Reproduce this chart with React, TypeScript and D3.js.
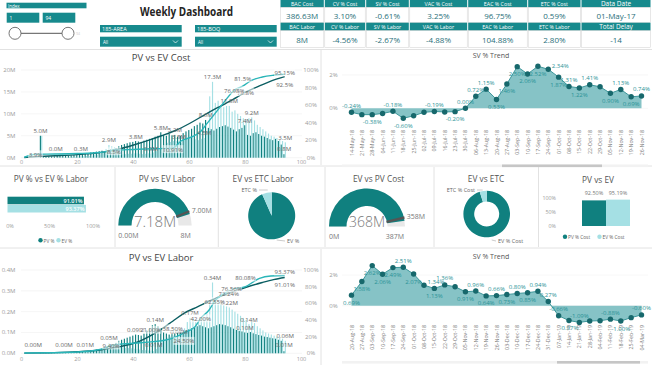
import React from "react";
import * as d3 from "d3";

// ---------------- data ----------------
const kpiCostHeads = ["BAC Cost", "CV % Cost", "SV % Cost", "VAC % Cost", "EAC % Cost", "ETC % Cost", "Data Date"];
const kpiCostVals = ["386.63M", "3.10%", "-0.61%", "3.25%", "96.75%", "0.59%", "01-May-17"];
const kpiLaborHeads = ["BAC Labor", "CV % Labor", "SV % Labor", "VAC % Labor", "EAC % Labor", "ETC % Labor", "Total Delay"];
const kpiLaborVals = ["8M", "-4.56%", "-2.67%", "-4.88%", "104.88%", "2.80%", "-14"];

const indexRange = [1, 94];
const slicers = ["185-AREA", "185-BOQ"];

// weekly cost (M), index 1..94
const pvCost = [
  0, 0, 0, 0, 0, 0, 5.0, 0.2, 0.2, 0.3,
  0.3, 0.3, 0.4, 0.4, 0.4, 0.5, 0.5, 0.5, 0.6, 0.6,
  0.7, 0.8, 0.9, 1.0, 1.2, 1.3, 1.4, 1.5, 1.6, 1.5,
  1.7, 1.9, 2.0, 2.2, 2.6, 2.9, 3.1, 3.3, 3.5, 3.6,
  3.8, 3.7, 3.6, 3.9, 4.1, 4.3, 4.5, 4.8, 5.0, 5.8,
  5.2, 5.0, 5.4, 5.1, 5.2, 4.8, 5.0, 5.6, 6.0, 6.3,
  6.6, 7.2, 7.5, 8.0, 7.8, 8.6, 6.8, 6.5, 6.2, 6.6,
  7.0, 7.2, 7.4, 7.1, 6.8, 6.4, 6.0, 6.5, 6.8, 7.4,
  5.2, 5.0, 5.6, 5.8, 5.4, 5.0, 4.8, 4.5, 4.2, 4.0,
  4.3, 3.8, 3.0, 0.8,
];
const evCost = [
  0, 0, 0, 0, 0, 0, 5.0, 0, 0, 0,
  0, 0.0, 0.1, 0.1, 0.1, 0.1, 0.2, 0.2, 0.2, 0.3,
  0.3, 0.3, 0.4, 0.4, 0.5, 0.6, 0.7, 0.8, 1.2, 2.0,
  2.9, 2.6, 2.4, 2.0, 1.0, 0.8, 0.8, 0.9, 0.9, 1.0,
  1.0, 0.9, 0.8, 0.9, 1.0, 0.9, 1.2, 1.5, 2.0, 2.5,
  3.0, 3.4, 3.6, 3.8, 3.8, 3.8, 3.5, 3.9, 4.2, 4.6,
  5.0, 4.2, 4.0, 4.3, 4.5, 6.0, 14.0, 17.3, 12.5, 13.0,
  12.0, 11.5, 11.8, 11.8, 10.5, 10.8, 10.0, 9.5, 9.0, 8.8,
  9.0, 9.2, 8.5, 7.5, 7.0, 6.5, 6.0, 5.5, 5.0, 4.8,
  4.5, 4.2, 3.8, 3.5,
];
// cumulative % [index, pct]
const pvCostCum: [number, number][] = [
  [1, 0.2], [7, 1.5], [12, 2.2], [20, 3.5], [28, 5.8], [35, 10], [40, 14.5], [45, 19.5], [50, 25],
  [55, 31], [60, 39], [66, 50], [70, 57], [73, 62], [77, 69], [80, 74.8], [84, 80.5], [88, 86], [91, 89.5], [94, 92.5],
];
const evCostCum: [number, number][] = [
  [1, 0.5], [5, 3.9], [12, 4.2], [20, 4.8], [28, 6.0], [33, 8.5], [40, 9.4], [47, 10.2], [54, 10.91],
  [57, 19], [61, 24], [64, 30], [66, 38], [69, 50], [72, 62], [76, 76.98], [79, 81.5], [82, 88], [86, 92], [90, 94], [94, 95.15],
];
const pvCostLabelAt = [7, 41, 50, 55, 66, 80, 94];
const evCostLabelAt = [12, 21, 31, 46, 56, 65, 68, 74, 82, 94];
// [index, vertical label shift]
const pvCostCumLabelAt: [number, number][] = [[80, 0], [94, 8]];
const evCostCumLabelAt: [number, number][] = [[5, 0], [33, 1], [54, 1], [76, 0], [79, -8], [94, -2]];

// weekly labor (M), index 1..94
const pvLabor = [
  0, 0, 0, 0, 0, 0, 0.004, 0.003, 0.003, 0.004,
  0.004, 0.004, 0.005, 0.005, 0.005, 0.006, 0.006, 0.007, 0.008, 0.008,
  0.009, 0.010, 0.010, 0.012, 0.014, 0.016, 0.018, 0.020, 0.022, 0.025,
  0.030, 0.035, 0.040, 0.050, 0.060, 0.065, 0.070, 0.075, 0.080, 0.085,
  0.090, 0.088, 0.085, 0.095, 0.110, 0.120, 0.135, 0.140, 0.130, 0.120,
  0.100, 0.095, 0.090, 0.092, 0.095, 0.098, 0.100, 0.105, 0.110, 0.115,
  0.120, 0.125, 0.130, 0.135, 0.130, 0.125, 0.120, 0.125, 0.130, 0.135,
  0.140, 0.138, 0.135, 0.130, 0.125, 0.118, 0.112, 0.108, 0.105, 0.100,
  0.098, 0.102, 0.096, 0.092, 0.088, 0.085, 0.080, 0.078, 0.075, 0.072,
  0.070, 0.065, 0.060, 0.010,
];
const evLabor = [
  0, 0, 0, 0.002, 0, 0, 0.002, 0.001, 0.001, 0.002,
  0.002, 0.002, 0.002, 0.002, 0.003, 0.003, 0.003, 0.004, 0.004, 0.005,
  0.005, 0.006, 0.006, 0.007, 0.008, 0.010, 0.012, 0.015, 0.020, 0.030,
  0.050, 0.045, 0.040, 0.035, 0.030, 0.028, 0.026, 0.025, 0.024, 0.022,
  0.020, 0.018, 0.016, 0.015, 0.014, 0.012, 0.010, 0.020, 0.040, 0.060,
  0.070, 0.075, 0.080, 0.085, 0.080, 0.080, 0.090, 0.120, 0.150, 0.170,
  0.160, 0.150, 0.155, 0.160, 0.170, 0.190, 0.240, 0.340, 0.260, 0.250,
  0.240, 0.230, 0.225, 0.220, 0.210, 0.200, 0.190, 0.180, 0.170, 0.160,
  0.140, 0.150, 0.145, 0.130, 0.120, 0.110, 0.100, 0.095, 0.090, 0.085,
  0.080, 0.075, 0.070, 0.060,
];
const pvLaborCum: [number, number][] = [
  [1, 0.2], [10, 0.7], [20, 1.8], [28, 4], [35, 8], [41, 13], [46, 21.0], [50, 29], [54, 38.5],
  [58, 48], [63, 56], [68, 64], [74, 72.24], [80, 79], [86, 85], [90, 88.5], [94, 91.01],
];
const evLaborCum: [number, number][] = [
  [1, 0.3], [10, 0.6], [20, 1.5], [28, 4.5], [32, 9.4], [40, 12], [47, 14], [53, 17], [58, 24.5],
  [62, 32], [64, 42.0], [67, 52], [69, 62.55], [72, 71], [75, 76.56], [80, 80.08], [85, 90], [89, 92.8], [94, 93.37],
];
const pvLaborLabelAt = [23, 41, 48, 80, 94];
const evLaborLabelAt = [4, 15, 31, 47, 56, 60, 68, 74, 81, 94];
const pvLaborCumLabelAt: [number, number][] = [[46, -6], [54, 7], [74, 0], [94, 7]];
const evLaborCumLabelAt: [number, number][] = [[32, 0], [58, 8], [64, 0], [69, 0], [75, -1], [80, -9], [94, -4]];

const costTicks = [0, 5, 10, 15, 20];
const laborTicks = [0, 0.1, 0.2, 0.3, 0.4];
const pctTicks = [0, 20, 40, 60, 80, 100];
const idxTicks = [0, 20, 40, 60, 80, 100];

// SV % trend
const svDates1 = ["14-May-18", "21-May-18", "28-May-18", "04-Jun-18", "11-Jun-18", "18-Jun-18", "25-Jun-18", "02-Jul-18", "09-Jul-18", "16-Jul-18", "23-Jul-18", "30-Jul-18", "06-Aug-18", "13-Aug-18", "20-Aug-18", "27-Aug-18", "03-Sep-18", "10-Sep-18", "17-Sep-18", "24-Sep-18", "01-Oct-18", "08-Oct-18", "15-Oct-18", "22-Oct-18", "29-Oct-18", "05-Nov-18", "12-Nov-18", "19-Nov-18", "26-Nov-18"];
const svValues1 = [-0.24, -0.38, -0.38, -0.31, -0.18, -0.60, -0.45, -0.24, -0.19, -0.22, -0.20, 0.00, 0.72, 1.15, 0.53, 1.46, 2.50, 2.06, 2.52, 2.34, 1.87, 1.31, 1.22, 1.41, 1.29, 0.90, 1.13, 0.69, 0.74];
const svLabelPos1 = ["a", "", "b", "", "a", "b", "", "", "a", "", "b", "a", "a", "a", "b", "b", "b", "b", "b", "r", "b", "a", "b", "a", "", "b", "a", "b", "a"];
const svDates2 = ["20-Aug-18", "27-Aug-18", "03-Sep-18", "10-Sep-18", "17-Sep-18", "24-Sep-18", "01-Oct-18", "08-Oct-18", "15-Oct-18", "22-Oct-18", "29-Oct-18", "05-Nov-18", "12-Nov-18", "19-Nov-18", "26-Nov-18", "03-Dec-18", "10-Dec-18", "17-Dec-18", "24-Dec-18", "31-Dec-18", "07-Jan-19", "14-Jan-19", "21-Jan-19", "28-Jan-19", "04-Feb-19", "11-Feb-19", "18-Feb-19", "25-Feb-19", "04-Mar-19"];
const svValues2 = [0.69, 1.58, 2.62, 2.06, 2.49, 2.51, 2.07, 1.34, 1.13, 1.36, 1.24, 0.91, 0.96, 0.64, 0.66, 0.73, 0.80, 0.85, 0.94, 0.27, -0.66, -0.97, -1.09, -1.00, -0.98, -0.88, -1.00, -0.78, -0.60];
const svLabelPos2 = ["b", "b", "b", "b", "b", "a", "b", "r", "b", "a", "", "b", "a", "b", "a", "b", "a", "b", "a", "a", "a", "b", "a", "", "", "a", "b", "", "a"];
const svTicks = [0, 2];

// middle row
const laborPctNames = ["PV %", "EV %"];
const laborPct = [91.01, 93.37];
const laborGauge = { value: 7.18, target: 7.0, max: 8 };
const costGauge = { value: 368, target: 358, max: 387 };
const etcLaborNames = ["EV %", "ETC %"];
const etcLaborVals = [93.37, 6.63];
const etcCostNames = ["EV % Cost", "ETC % Cost"];
const etcCostVals = [95.15, 4.85];
const pvEvNames = ["PV % Cost", "EV % Cost"];
const pvEvVals = [92.5, 95.19];
const colTicks = [0, 50, 100];
const barTicks = [0, 50, 100];

// ---------------- style ----------------
const FONT = "'Open Sans', 'Noto Sans', sans-serif";
const TEAL = "#178a8d";
const DARK = "#10807f";
const LIGHT = "#a5e0e4";
const LINE_DARK = "#0b5e62";
const LINE_CYAN = "#2ab5b8";
const AXIS = "#9b9b9b";
const LABEL = "#666";
const BORDER = "#e2e2e2";

type Pt = [number, number];

function Txt(props: any) {
  return <text fontFamily={FONT} dominantBaseline="central" {...props} />;
}

function Header() {
  const sx = d3.scaleLinear().domain([1, 94]).range([15, 68]);
  return (
    <g>
      <rect x={6.5} y={2.7} width={80} height={5.6} fill={TEAL} />
      <Txt x={8} y={5.5} fontSize={4.5} fill="#fff">Index</Txt>
      {indexRange.map((v, i) => (
        <g key={i}>
          <rect x={6.7 + i * 36} y={12.7} width={32.6} height={10} fill={TEAL} />
          <Txt x={9.5 + i * 36} y={17.8} fontSize={5} fill="#fff">{v}</Txt>
        </g>
      ))}
      <line x1={sx(indexRange[0])} x2={sx(indexRange[1])} y1={33.3} y2={33.3} stroke="#555" strokeWidth={1} />
      {indexRange.map((v, i) => (
        <circle key={i} cx={sx(v)} cy={33.3} r={6} fill="#fff" stroke="#666" strokeWidth={0.9} />
      ))}
      <Txt x={76} y={33.5} fontSize={3.5} fill="#ccc">94</Txt>
      <Txt x={186.5} y={11} fontSize={12.5} fontWeight={700} fill="#252423" textAnchor="middle" textLength={93} lengthAdjust="spacingAndGlyphs">Weekly Dashboard</Txt>
      {slicers.map((s, i) => {
        const x0 = 100 + i * 95;
        return (
          <g key={s}>
            <rect x={x0} y={25} width={81.7} height={7.3} fill={TEAL} />
            <Txt x={x0 + 2} y={28.8} fontSize={5.5} fill="#fff">{s}</Txt>
            <rect x={x0} y={36.7} width={81.7} height={10} fill={TEAL} />
            <Txt x={x0 + 3} y={41.8} fontSize={4.5} fill="#fff">All</Txt>
            <path d={`M${x0 + 73} ${40.5} L${x0 + 75.5} ${43} L${x0 + 78} ${40.5}`} fill="none" stroke="#fff" strokeWidth={0.7} />
          </g>
        );
      })}
    </g>
  );
}

function Kpi() {
  const edges = [280, 324.3, 365.7, 409.3, 467.7, 527.7, 581, 651];
  const rows = [
    { heads: kpiCostHeads, vals: kpiCostVals, hy: 0, hh: 7.4, vy: 7.4, vh: 15.3 },
    { heads: kpiLaborHeads, vals: kpiLaborVals, hy: 22.7, hh: 8, vy: 30.7, vh: 17 },
  ];
  return (
    <g>
      {rows.map((r, ri) => (
        <g key={ri}>
          {r.heads.map((h, i) => {
            const x0 = edges[i], x1 = edges[i + 1], cx = (x0 + x1) / 2;
            return (
              <g key={h}>
                <rect x={x0 + 0.5} y={r.hy} width={x1 - x0 - 1} height={r.hh} fill={TEAL} />
                <Txt x={cx} y={r.hy + r.hh / 2 + 0.2} fontSize={i === 6 ? 6.5 : 5.3} fill="#fff" textAnchor="middle">{h}</Txt>
                <rect x={x0 + 0.5} y={r.vy} width={x1 - x0 - 1} height={r.vh} fill="#fff" stroke="#d0d0d0" strokeWidth={0.5} />
                <Txt x={cx} y={r.vy + r.vh / 2 + 0.5} fontSize={8} fill="#2a707a" textAnchor="middle">{r.vals[i]}</Txt>
              </g>
            );
          })}
        </g>
      ))}
    </g>
  );
}

function LabelBox({ x, y, text, color }: { x: number; y: number; text: string; color: string }) {
  const w = text.length * 3.2 + 2;
  return (
    <g>
      <rect x={x - w / 2} y={y - 4} width={w} height={8} fill="#fff" opacity={0.55} />
      <Txt x={x} y={y} fontSize={6.1} fill={color} textAnchor="middle">{text}</Txt>
    </g>
  );
}

function Combo(p: {
  title: string; titleY: number; y0: number; yTop: number; yMax: number; yTicks: number[];
  yFmt: (v: number) => string; pv: number[]; ev: number[]; pvCum: Pt[]; evCum: Pt[];
  pvLab: number[]; evLab: number[]; pvCumLab: Pt[]; evCumLab: Pt[];
  barFmt: (v: number) => string; cumFmt: (v: number) => string; xLabelY: number;
}) {
  const x = d3.scaleLinear().domain([0, 100]).range([21.5, 301.5]);
  const yB = d3.scaleLinear().domain([0, p.yMax]).range([p.y0, p.yTop]);
  const yP = d3.scaleLinear().domain([0, 100]).range([p.y0, p.yTop]);
  const line = d3.line<Pt>().x(d => x(d[0])).y(d => yP(d[1])).curve(d3.curveMonotoneX);
  const barLabel = (vals: number[], idxs: number[], dx: number) =>
    idxs.map(i => {
      const v = vals[i - 1];
      return (
        <Txt key={i} x={x(i) + dx} y={Math.min(yB(v) - 5, p.y0 - 9)} fontSize={6.1} fill={LABEL} textAnchor="middle">
          {p.barFmt(v)}
        </Txt>
      );
    });
  const cumLabel = (pts: Pt[], labs: Pt[]) =>
    labs.map(([idx, dy]) => {
      const d = pts.find(q => q[0] === idx)!;
      return <LabelBox key={idx} x={x(d[0])} y={yP(d[1]) + dy} text={p.cumFmt(d[1])} color={LABEL} />;
    });
  return (
    <g>
      <Txt x={161} y={p.titleY} fontSize={9.5} fill="#444" textAnchor="middle">{p.title}</Txt>
      {p.yTicks.map(t => (
        <g key={t}>
          <line x1={21} x2={302} y1={yB(t)} y2={yB(t)} stroke="#efefef" strokeWidth={0.6} />
          <Txt x={15.5} y={yB(t)} fontSize={6} fill={AXIS} textAnchor="end">{p.yFmt(t)}</Txt>
        </g>
      ))}
      {pctTicks.map(t => (
        <Txt key={t} x={311} y={yP(t)} fontSize={6} fill={AXIS} textAnchor="middle">{t}%</Txt>
      ))}
      {idxTicks.map(t => (
        <Txt key={t} x={x(t)} y={p.xLabelY} fontSize={5.5} fill={AXIS} textAnchor="middle">{t}</Txt>
      ))}
      {p.pv.map((v, i) => (
        <rect key={"p" + i} x={x(i + 1) - 1.3} y={yB(v)} width={1.15} height={p.y0 - yB(v)} fill={DARK} />
      ))}
      {p.ev.map((v, i) => (
        <rect key={"e" + i} x={x(i + 1) + 0.05} y={yB(v)} width={1.15} height={p.y0 - yB(v)} fill={LIGHT} />
      ))}
      <path d={line(p.pvCum)!} fill="none" stroke={LINE_DARK} strokeWidth={1.4} />
      <path d={line(p.evCum)!} fill="none" stroke={LINE_CYAN} strokeWidth={1.4} />
      {barLabel(p.pv, p.pvLab, -0.6)}
      {barLabel(p.ev, p.evLab, 0.6)}
      {cumLabel(p.pvCum, p.pvCumLab)}
      {cumLabel(p.evCum, p.evCumLab)}
    </g>
  );
}

function Trend(p: {
  titleY: number; dates: string[]; values: number[]; pos: string[]; zeroY: number; unitPx: number;
  dateTop: number; scrollY: number; thumb: [number, number];
}) {
  const x = d3.scalePoint<string>().domain(p.dates).range([351.5, 641.5]);
  const y = d3.scaleLinear().domain([0, 2]).range([p.zeroY, p.zeroY - 2 * p.unitPx]);
  const xs = (i: number) => x(p.dates[i])!;
  const area = d3.area<number>().x((_, i) => xs(i)).y0(y(0)).y1(d => y(d));
  const line = d3.line<number>().x((_, i) => xs(i)).y(d => y(d));
  const off: Record<string, [number, number]> = { a: [0, -6.5], b: [0, 7.5], r: [12, -3] };
  return (
    <g>
      <Txt x={491} y={p.titleY} fontSize={7} fill="#555" textAnchor="middle">SV % Trend</Txt>
      {svTicks.map(t => (
        <g key={t}>
          <line x1={342} x2={648} y1={y(t)} y2={y(t)} stroke="#f1f1f1" strokeWidth={0.6} />
          <Txt x={333.5} y={y(t)} fontSize={6} fill={AXIS} textAnchor="middle">{t}%</Txt>
        </g>
      ))}
      <path d={area(p.values)!} fill="#86c3c6" />
      <path d={line(p.values)!} fill="none" stroke="#3d979b" strokeWidth={1} />
      {p.values.map((v, i) => (
        <circle key={i} cx={xs(i)} cy={y(v)} r={2.7} fill="#17686c" />
      ))}
      {p.values.map((v, i) =>
        p.pos[i] ? (
          <Txt key={"l" + i} x={xs(i) + off[p.pos[i]][0]} y={y(v) + off[p.pos[i]][1]} fontSize={6} fill="#2a9296" textAnchor="middle">
            {v.toFixed(2)}%
          </Txt>
        ) : null
      )}
      {p.dates.map((d, i) => (
        <Txt key={d} transform={`translate(${xs(i)},${p.dateTop}) rotate(-90)`} fontSize={5.3} fill="#777" textAnchor="end">
          {d}
        </Txt>
      ))}
      <rect x={342} y={p.scrollY} width={306} height={2.6} fill="#f2f2f2" />
      <rect x={p.thumb[0]} y={p.scrollY} width={p.thumb[1] - p.thumb[0]} height={2.6} fill="#c6c6c6" />
    </g>
  );
}

function Gauge(p: {
  title: string; tx: number; cx: number; cy: number; R: number; r: number; fs: number;
  g: { value: number; target: number; max: number };
  fmt: (v: number) => string; maxFmt: (v: number) => string;
}) {
  const a = d3.scaleLinear().domain([0, p.g.max]).range([-Math.PI / 2, Math.PI / 2]);
  const arc = d3.arc<any>().innerRadius(p.r).outerRadius(p.R);
  const ta = a(p.g.target);
  return (
    <g>
      <Txt x={p.tx} y={178.3} fontSize={8.3} fill="#555" textAnchor="middle">{p.title}</Txt>
      <g transform={`translate(${p.cx},${p.cy})`}>
        <path d={arc({ startAngle: -Math.PI / 2, endAngle: Math.PI / 2 })!} fill="#e8e8e8" />
        <path d={arc({ startAngle: -Math.PI / 2, endAngle: a(p.g.value) })!} fill={DARK} />
        <line x1={(p.r - 0.5) * Math.sin(ta)} y1={-(p.r - 0.5) * Math.cos(ta)} x2={(p.R + 0.5) * Math.sin(ta)} y2={-(p.R + 0.5) * Math.cos(ta)} stroke="#555" strokeWidth={2.4} />
        <Txt x={0} y={-5} fontSize={p.fs} fontWeight={300} fill="#7a7a7a" textAnchor="middle">{p.fmt(p.g.value)}</Txt>
        <Txt x={-p.R} y={9.5} fontSize={7} fill="#777" textAnchor="start">{p.fmt(0)}</Txt>
        <Txt x={p.R - 1} y={9.5} fontSize={7} fill="#777" textAnchor="end">{p.maxFmt(p.g.max)}</Txt>
        <Txt x={(p.R + 3) * Math.sin(ta)} y={-(p.R + 3) * Math.cos(ta)} fontSize={7} fill="#777" textAnchor="start">{p.fmt(p.g.target)}</Txt>
      </g>
    </g>
  );
}

function Pie(p: {
  title: string; tx: number; cx: number; cy: number; R: number; r: number; names: string[]; vals: number[];
  topLabel: [number, number]; botLabel: [number, number];
}) {
  const pie = d3.pie<number>().sort(null)(p.vals);
  const arc = d3.arc<d3.PieArcDatum<number>>().innerRadius(p.r).outerRadius(p.R);
  const colors = [DARK, LIGHT];
  return (
    <g>
      <Txt x={p.tx} y={178.3} fontSize={8.3} fill="#555" textAnchor="middle">{p.title}</Txt>
      <g transform={`translate(${p.cx},${p.cy})`}>
        {pie.map((s, i) => (
          <path key={i} d={arc(s)!} fill={colors[i]} />
        ))}
      </g>
      <line x1={p.topLabel[0] + 2} x2={p.cx - 4} y1={p.topLabel[1]} y2={p.topLabel[1]} stroke="#999" strokeWidth={0.5} />
      <Txt x={p.topLabel[0]} y={p.topLabel[1]} fontSize={5.5} fill="#666" textAnchor="end">{p.names[1]}</Txt>
      <line x1={p.cx + 5} x2={p.botLabel[0] - 2} y1={p.botLabel[1] - 1} y2={p.botLabel[1]} stroke="#999" strokeWidth={0.5} />
      <Txt x={p.botLabel[0]} y={p.botLabel[1]} fontSize={5.5} fill="#666" textAnchor="start">{p.names[0]}</Txt>
    </g>
  );
}

function LaborBars() {
  const x = d3.scaleLinear().domain([0, 100]).range([7.5, 91.5]);
  const colors = [DARK, LIGHT];
  return (
    <g>
      <Txt x={51} y={178.3} fontSize={8.3} fill="#555" textAnchor="middle">PV % vs EV % Labor</Txt>
      {laborPct.map((v, i) => (
        <g key={i}>
          <rect x={x(0)} y={196.7 + i * 8.2} width={x(v) - x(0)} height={7.6} fill={colors[i]} />
          <Txt x={x(v) - 1.5} y={200.5 + i * 8.2} fontSize={5.5} fontWeight={600} fill="#fff" textAnchor="end">{v.toFixed(2)}%</Txt>
        </g>
      ))}
      {barTicks.map(t => (
        <Txt key={t} x={x(t) + (t === 0 ? 2.5 : t === 100 ? 1.5 : 0)} y={226} fontSize={5.5} fill={AXIS} textAnchor="middle">{t}%</Txt>
      ))}
      {laborPctNames.map((n, i) => (
        <g key={n}>
          <circle cx={40.5 + i * 18} cy={240.3} r={2.2} fill={colors[i]} />
          <Txt x={43.5 + i * 18} y={240.5} fontSize={4.8} fill="#666">{n}</Txt>
        </g>
      ))}
    </g>
  );
}

function PvEvColumns() {
  const y = d3.scaleLinear().domain([0, 100]).range([226, 198.3]);
  const x = d3.scaleBand().domain(pvEvNames).range([582, 630]);
  const colors = [DARK, LIGHT];
  return (
    <g>
      <Txt x={598} y={179} fontSize={8.3} fill="#555" textAnchor="middle">PV vs EV</Txt>
      {colTicks.map(t => (
        <Txt key={t} x={556} y={y(t)} fontSize={5.3} fill={AXIS} textAnchor="end">{t}%</Txt>
      ))}
      {pvEvVals.map((v, i) => (
        <g key={i}>
          <rect x={x(pvEvNames[i])!} y={y(v)} width={x.bandwidth()} height={226 - y(v)} fill={colors[i]} />
          <Txt x={x(pvEvNames[i])! + x.bandwidth() / 2} y={193} fontSize={5.5} fill="#777" textAnchor="middle">{v.toFixed(2)}%</Txt>
        </g>
      ))}
      {pvEvNames.map((n, i) => (
        <g key={n}>
          <circle cx={565 + i * 34.5} cy={236.7} r={2.2} fill={colors[i]} />
          <Txt x={568 + i * 34.5} y={236.9} fontSize={4.8} fill="#666">{n}</Txt>
        </g>
      ))}
    </g>
  );
}

export default function App() {
  const fmtM1 = (v: number) => `${v.toFixed(1)}M`;
  const fmtM2 = (v: number) => `${v.toFixed(2)}M`;
  return (
    <svg width={652} height={365} style={{ position: "absolute", left: 0, top: 0, background: "#fff" }}>
      <rect width={652} height={365} fill="#fff" />
      {/* panel borders */}
      <line x1={0} x2={652} y1={49.5} y2={49.5} stroke={BORDER} />
      <line x1={0} x2={652} y1={166} y2={166} stroke={BORDER} />
      <line x1={0} x2={652} y1={248} y2={248} stroke={BORDER} />
      <line x1={321} x2={321} y1={50} y2={165} stroke={BORDER} />
      <line x1={321} x2={321} y1={249} y2={365} stroke={BORDER} />
      {[115, 218.3, 325, 434, 538.5].map(x => (
        <line key={x} x1={x} x2={x} y1={167} y2={247} stroke={BORDER} />
      ))}
      <Header />
      <Kpi />
      <Combo
        title="PV vs EV Cost" titleY={57.5} y0={157.7} yTop={70} yMax={20} yTicks={costTicks}
        yFmt={v => `${v}M`} pv={pvCost} ev={evCost} pvCum={pvCostCum} evCum={evCostCum}
        pvLab={pvCostLabelAt} evLab={evCostLabelAt} pvCumLab={pvCostCumLabelAt} evCumLab={evCostCumLabelAt}
        barFmt={fmtM1} cumFmt={v => `${+v.toFixed(2)}%`} xLabelY={162}
      />
      <Combo
        title="PV vs EV Labor" titleY={257.5} y0={353.3} yTop={270} yMax={0.4} yTicks={laborTicks}
        yFmt={v => `${v.toFixed(1)}M`} pv={pvLabor} ev={evLabor} pvCum={pvLaborCum} evCum={evLaborCum}
        pvLab={pvLaborLabelAt} evLab={evLaborLabelAt} pvCumLab={pvLaborCumLabelAt} evCumLab={evLaborCumLabelAt}
        barFmt={fmtM2} cumFmt={v => `${v.toFixed(2)}%`} xLabelY={358.5}
      />
      <Trend titleY={55} dates={svDates1} values={svValues1} pos={svLabelPos1} zeroY={108.3} unitPx={16.67} dateTop={130} scrollY={164.5} thumb={[502, 602]} />
      <Trend titleY={256} dates={svDates2} values={svValues2} pos={svLabelPos2} zeroY={305.7} unitPx={15.3} dateTop={325} scrollY={361} thumb={[557, 640]} />
      <LaborBars />
      <Gauge title="PV vs EV Labor" tx={167} cx={155} cy={225.5} R={36.7} r={23.5} fs={15} g={laborGauge} fmt={fmtM2} maxFmt={v => `${v}M`} />
      <Pie title="EV vs ETC Labor" tx={263} cx={271.7} cy={215.8} R={23.5} r={0} names={etcLaborNames} vals={etcLaborVals} topLabel={[257, 190]} botLabel={[287, 241]} />
      <Gauge title="EV vs PV Cost" tx={378.5} cx={367} cy={226.5} R={38} r={20.5} fs={14} g={costGauge} fmt={v => `${v}M`} maxFmt={v => `${v}M`} />
      <Pie title="EV vs ETC" tx={486} cx={486.7} cy={214} R={23.3} r={12.5} names={etcCostNames} vals={etcCostVals} topLabel={[475, 190]} botLabel={[498, 241]} />
      <PvEvColumns />
    </svg>
  );
}
